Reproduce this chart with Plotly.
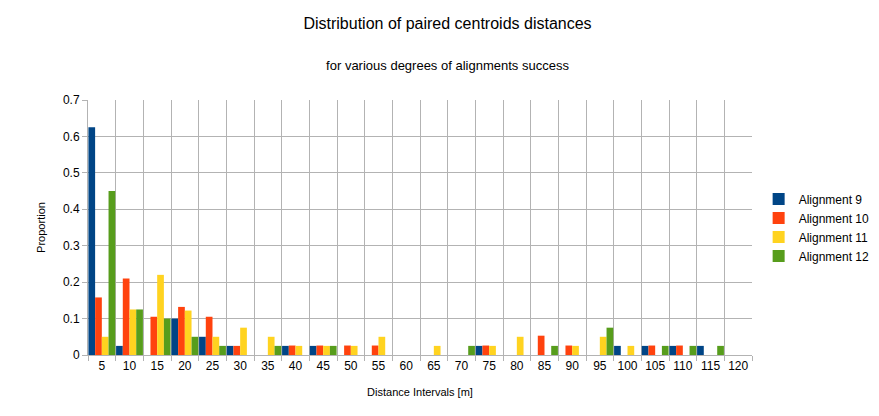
import plotly.graph_objects as go

intervals = [str(v) for v in range(5, 125, 5)]
y_ticks = [0, 0.1, 0.2, 0.3, 0.4, 0.5, 0.6, 0.7]
y_labels = ["0", "0.1", "0.2", "0.3", "0.4", "0.5", "0.6", "0.7"]

align9 = [0.625, 0.025, 0, 0.1, 0.05, 0.025, 0, 0.025, 0.025, 0, 0, 0, 0, 0, 0.025,
          0, 0, 0, 0, 0.025, 0.025, 0.025, 0.025, 0]
align10 = [0.158, 0.21, 0.105, 0.132, 0.105, 0.025, 0, 0.026, 0.026, 0.026, 0.026, 0, 0, 0, 0.026,
           0, 0.053, 0.026, 0, 0, 0.026, 0.026, 0, 0]
align11 = [0.05, 0.125, 0.22, 0.122, 0.05, 0.075, 0.05, 0.025, 0.025, 0.025, 0.05, 0, 0.025, 0, 0.025,
           0.05, 0, 0.025, 0.05, 0.025, 0, 0, 0, 0]
align12 = [0.45, 0.125, 0.1, 0.05, 0.025, 0, 0.025, 0, 0.025, 0, 0, 0, 0, 0.025, 0,
           0, 0.025, 0, 0.075, 0, 0.025, 0.025, 0.025, 0]

series = [
    ("Alignment 9", align9, "#004586"),
    ("Alignment 10", align10, "#ff420e"),
    ("Alignment 11", align11, "#ffd320"),
    ("Alignment 12", align12, "#579d1c"),
]

fig = go.Figure()
for name, vals, col in series:
    fig.add_trace(go.Bar(x=intervals, y=vals, name=name, marker_color=col, marker_line_width=0))

fig.update_layout(
    width=879, height=416,
    paper_bgcolor="white", plot_bgcolor="white",
    font=dict(family="Liberation Sans, Arial", size=12, color="black"),
    title=dict(
        text="Distribution of paired centroids distances<br><span style='font-size:13px'><br>for various degrees of alignments success</span>",
        x=0.5, xanchor="center", y=0.95, yanchor="top", font=dict(size=16),
    ),
    barmode="group", bargap=0.03, bargroupgap=0.0,
    margin=dict(l=80, r=116, t=92, b=69),
    legend=dict(x=1.01, y=0.5, yanchor="middle", font=dict(size=12),
                itemwidth=30, tracegroupgap=0),
    showlegend=True,
)
fig.update_xaxes(
    type="category", tickson="boundaries", showgrid=True, gridcolor="#b3b3b3",
    showline=True, linecolor="#b3b3b3", ticks="outside", tickcolor="#b3b3b3", ticklen=5,
    tickangle=0,
    title=dict(text="Distance Intervals [m]", font=dict(size=11)), tickfont=dict(size=12),
)
fig.update_yaxes(
    range=[0, 0.7], tickvals=y_ticks, ticktext=y_labels, showgrid=True, gridcolor="#b3b3b3",
    showline=True, linecolor="#b3b3b3", ticks="outside", tickcolor="#b3b3b3", ticklen=5,
    zeroline=False,
    title=dict(text="Proportion", font=dict(size=11)), tickfont=dict(size=12),
)

fig.write_html("out.html")
